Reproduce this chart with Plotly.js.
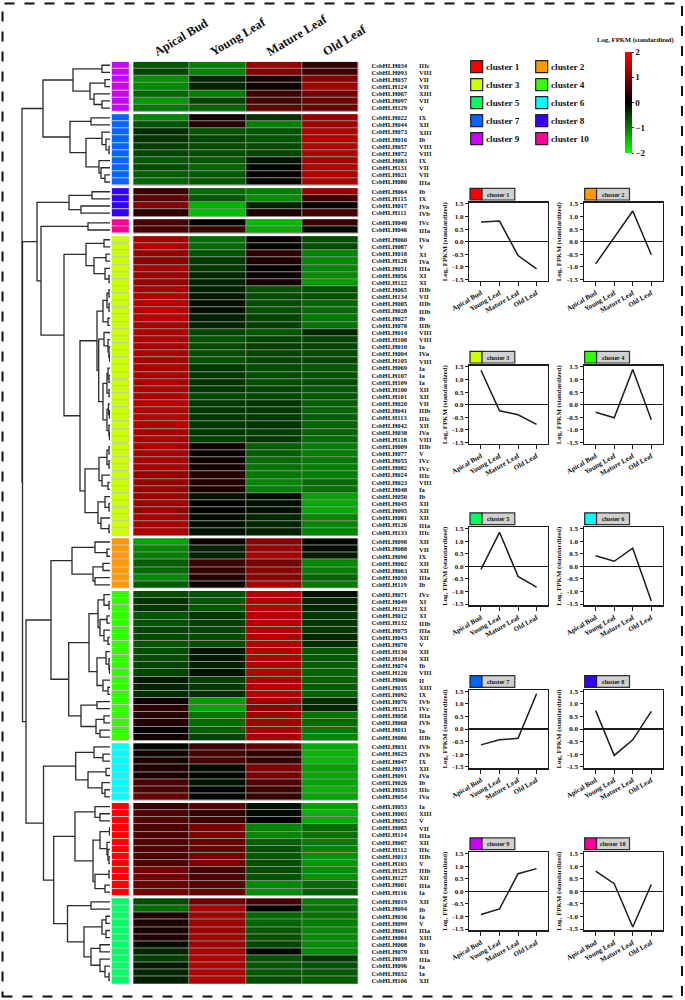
<!DOCTYPE html>
<html><head><meta charset="utf-8">
<script src="https://cdn.plot.ly/plotly-3.0.1.min.js"></script>
<style>html,body{margin:0;padding:0;background:#fff}</style></head>
<body><div id="chart" style="width:685px;height:1000px"></div>
<script>
const tissues = ['Apical Bud','Young Leaf','Mature Leaf','Old Leaf'];
const tissueIndex = [0,1,2,3];
const genePrefix = 'CsbHLH';
const clusterOrder = [9,7,8,10,3,2,4,6,1,5];
const clusterColors = {1:'#ff0000',2:'#ff9900',3:'#ccff00',4:'#33ff00',5:'#00ff66',6:'#00ffff',7:'#0066ff',8:'#3300ff',9:'#cc00ff',10:'#ff0099'};

const genes9 = ['034','093','037','124','067','097','129'];
const classes9 = ['IIIc','VIII','VII','VII','XIII','VII','V'];
const values9 = [[-.7,-1,1.2,.4],[-.55,-1.05,1,.5],[-1.15,-.3,.2,1.05],[-1.1,-.3,.1,1.25],[-.8,-1,.5,.95],[-1.2,-.55,.55,.85],[-.95,-.8,.75,.85]];

const genes7 = ['022','044','073','016','057','072','083','131','021','080'];
const classes7 = ['IX','XII','XIII','Ib','VIII','VIII','IX','VII','VII','IIIa'];
const values7 = [[-1.05,.15,-.4,1.2],[-.65,.3,-1,1.25],[-.35,-.65,-.65,1.35],[-.4,-.55,-.65,1.35],[-.5,-.6,-.6,1.4],[-.55,-.6,-.55,1.4],[-.7,-.7,-.15,1.35],[-.6,-.8,-.05,1.4],[-.75,-.7,.05,1.3],[-.8,-.7,0,1.35]];

const genes8 = ['064','115','017','111'];
const classes8 = ['Ib','IX','IVa','IVb'];
const values8 = [[.45,-.85,-1,1.2],[.75,-.7,-1.1,.5],[1.05,-1.4,-.25,.05],[.35,-1.5,.25,.55]];

const genes10 = ['040','046'];
const classes10 = ['IVc','IIIa'];
const values10 = [[.6,0,-1.45,.45],[.55,.45,-1.35,-.05]];

const genes3 = ['060','087','018','128','051','056','122','065','134','005','028','027','078','014','108','010','004','105','069','107','109','100','101','020','041','113','042','038','118','009','077','055','082','024','023','048','050','045','095','081','126','133'];
const classes3 = ['IVa','V','XI','IVa','IIIa','XI','XI','IIIb','VII','IIIb','IIIb','Ib','IIIb','VIII','VIII','Ia','IVa','VIII','Ia','Ia','Ia','XII','XII','VII','IIIb','IIIc','XII','IVa','VIII','IIIb','V','IVc','IVc','IIIc','VIII','Ia','Ib','XII','XII','XII','IIIa','IIIc'];
const values3 = [[1.3,-.85,.05,-.6],[1.35,-.85,-.05,-.6],[1.15,-.65,.35,-1.05],[1.1,-.45,.25,-1.1],[1.3,-.45,0,-1.05],[1.2,-.3,.1,-1.1],[1.2,-.3,.15,-1.25],[1.35,-.25,-.65,-.65],[1.4,-.2,-.6,-.65],[1.4,-.1,-.6,-.8],[1.4,-.1,-.6,-.85],[1.4,-.25,-.55,-.95],[1.3,-.3,-.5,-.9],[1.35,-.55,-.7,-.3],[1.35,-.65,-.55,-.55],[1.35,-.6,-.5,-.55],[1.35,-.6,-.55,-.6],[1.35,-.65,-.55,-.55],[1.35,-.45,-.6,-.7],[1.35,-.45,-.6,-.65],[1.3,-.4,-.6,-.6],[1.35,-.45,-.55,-.7],[1.35,-.55,-.55,-.7],[1.4,-.45,-.4,-.75],[1.4,-.45,-.45,-.8],[1.4,-.45,-.45,-.75],[1.4,-.45,-.4,-.8],[1.35,-.45,-.5,-.8],[1.35,-.5,-.45,-.85],[1.3,.15,-.75,-1],[1.3,.05,-.75,-1],[1.3,.1,-.85,-.95],[1.3,.15,-.9,-1],[1.15,.3,-.95,-1],[1.2,.3,-1.05,-.85],[1.2,.2,-1,-.9],[1.25,-.15,-.1,-1.25],[1.25,0,-.1,-1.35],[1.15,0,-.1,-1.35],[1.3,-.1,-.3,-1.05],[1.3,-.1,-.3,-1.05],[1.35,-.15,-.25,-1.05]];

const genes2 = ['098','088','090','002','063','030','119'];
const classes2 = ['XII','VII','IX','XII','XII','IIIa','Ib'];
const values2 = [[-1.3,.1,1.05,-.05],[-1.05,-.25,1.2,-.1],[-1,-.25,1.35,-.2],[-.75,.5,.95,-1.1],[-.85,.4,1.1,-1],[-1.1,.25,1.1,-.8],[-.75,.1,1.3,-.95]];

const genes4 = ['071','049','123','012','132','075','043','070','130','104','074','120','006','035','092','076','121','058','068','011','086'];
const classes4 = ['IVc','XI','XI','XI','IIIb','IIIa','XII','V','XII','XII','Ib','VIII','II','XIII','IX','IVb','IVc','IIIa','IVb','Ia','IIIb'];
const values4 = [[-.6,-.65,1.4,-.15],[-.4,-.7,1.4,-.3],[-.45,-.7,1.4,-.3],[-.7,-.45,1.4,-.45],[-.65,-.5,1.4,-.45],[-.55,-.55,1.4,-.45],[-.6,-.6,1.4,-.3],[-.65,-.6,1.4,-.35],[-.6,-.15,1.4,-.7],[-.6,-.2,1.4,-.7],[-.55,-.25,1.4,-.75],[-.55,-.15,1.4,-.8],[-.2,-.5,1.35,-.75],[-.3,-.45,1.4,-.75],[-.35,-.35,1.4,-.8],[.1,-1.25,1.25,-.35],[.35,-1.3,1.1,-.3],[.3,-.9,1.25,-.9],[.3,-.85,1.25,-.85],[0,-.75,1.3,-.95],[.15,-.55,1.35,-1.05]];

const genes6 = ['031','025','047','015','091','026','033','054'];
const classes6 = ['IVb','IVb','IX','XII','IVa','Ib','IIIc','IVa'];
const values6 = [[-.05,.45,.75,-1.35],[.15,.55,.35,-1.45],[.2,.6,.45,-1.45],[.25,-.1,1,-1.25],[.2,-.05,.95,-1.3],[.6,-.15,.65,-1.3],[.6,0,.5,-1.4],[.8,-.05,.4,-1.3]];

const genes1 = ['053','003','052','085','114','007','112','013','103','125','127','001','116'];
const classes1 = ['Ia','XIII','V','VII','IIIa','XII','IIIc','IIIb','V','IIIb','XII','IIIa','Ia'];
const values1 = [[.45,.7,-.15,-1.25],[.65,.4,-.05,-1.4],[.65,.5,0,-1.35],[.55,.95,-1.05,-.85],[.6,.95,-1.05,-.9],[.65,.85,-.75,-1],[.65,.85,-.65,-1.05],[.6,.9,-.7,-1.15],[.65,.9,-.6,-1.2],[.95,.55,-.6,-1.1],[.95,.6,-.65,-1.15],[.85,.7,-1.1,-.85],[.9,.75,-1.1,-.75]];

const genes5 = ['019','094','036','099','061','084','008','079','039','096','032','106'];
const classes5 = ['XII','Ib','Ia','V','IIIa','XIII','Ib','XII','IIIa','Ia','Ia','XII'];
const values5 = [[-.6,.9,.55,-1],[-.85,1.3,0,-.9],[.2,1.25,-.85,-.9],[.25,1.25,-.8,-1],[.15,1.2,-.7,-1.05],[.25,1.25,-.65,-1.1],[-.1,1.25,-.55,-1.1],[-.3,1.3,-.05,-1.1],[-.5,1.4,-.65,-.45],[-.2,1.4,-.7,-.65],[-.3,1.4,-.7,-.7],[-.25,1.4,-.6,-.75]];

const profile1 = [.78,.82,-.55,-1.08];
const profile2 = [-.88,.18,1.22,-.52];
const profile3 = [1.37,-.24,-.4,-.78];
const profile4 = [-.3,-.52,1.4,-.6];
const profile5 = [-.12,1.35,-.4,-.83];
const profile6 = [.42,.2,.72,-1.38];
const profile7 = [-.63,-.43,-.37,1.4];
const profile8 = [.73,-1.05,-.43,.7];
const profile9 = [-.92,-.7,.7,.9];
const profile10 = [.8,.3,-1.42,.27];

// Dendrogram: each node is [merge height, child, child]; 0 is the next leaf, top to bottom.
const treeC9 = [37,[8,0,0],[20,[5,0,0],[16,0,[8,0,0]]]];
const treeC7 = [40,[19,0,0],[24,[8,0,[4,0,[1,0,0]]],[11,0,[9,0,[5,0,0]]]]];
const treeC8 = [41,[18,0,0],[29,0,0]];
const treeC10 = [22,0,0];
const treeC3 = [46,[24,[6,0,0],[16,[4,0,0],[5,0,[1,0,0]]]],
  [30,[13,[7,[3,[1,0,0],[1,0,0]],[2,0,0]],[11.3,[6,0,[2,0,[1,0,[.5,0,0]]]],[7,[3,[2,0,[1,0,0]],[1,0,0]],[3,[1.5,0,[.5,0,0]],[1,0,[.5,0,0]]]]]],
      [25,[11,[3,[1,0,0],[1,0,0]],[8,0,[2,0,0]]],[12,[5,0,[1,0,0]],[9,0,[1,0,0]]]]]];
const treeC2 = [38,[15,0,[3,0,0]],[17,[7,0,0],[15,0,0]]];
const treeC4 = [41.3,[21,[12,[6,0,[1,0,0]],[10,[3,0,0],[6,0,[2,0,0]]]],[13,[4,0,[1,0,[.5,0,0]]],[7,0,[2,0,0]]]],
  [29,[13,0,0],[14,[6,0,0],[10,0,0]]]];
const treeC6 = [34.3,[16,0,[7,0,0]],[22,[4,0,0],[8,0,[5,0,0]]]];
const treeC1 = [35,[15,0,[10,0,0]],[17,[10,[.5,0,0],[3,0,[2,0,[1,0,0]]]],[15,[1,0,0],[5,0,0]]]];
const treeC5 = [42.5,[19,0,0],[26,[8,[4,0,0],[4,0,0]],[19,[10,0,0],[10,0,[5,0,[1,0,0]]]]]];
const geneTree = [88,[67,treeC9,treeC7],
  [87.5,[73,treeC8,[69,treeC10,treeC3]],[84,[59,treeC2,treeC4],[66.5,treeC6,[56.3,treeC1,treeC5]]]]];

const clusterGenes = {1:genes1,2:genes2,3:genes3,4:genes4,5:genes5,6:genes6,7:genes7,8:genes8,9:genes9,10:genes10};
const clusterClasses = {1:classes1,2:classes2,3:classes3,4:classes4,5:classes5,6:classes6,7:classes7,8:classes8,9:classes9,10:classes10};
const clusterValues = {1:values1,2:values2,3:values3,4:values4,5:values5,6:values6,7:values7,8:values8,9:values9,10:values10};
const clusterProfiles = {1:profile1,2:profile2,3:profile3,4:profile4,5:profile5,6:profile6,7:profile7,8:profile8,9:profile9,10:profile10};

// ---- layout helpers
const W = 685, H = 1000;
const px = x => x / W, py = y => 1 - y / H;
const SERIF = '"Liberation Serif","Times New Roman",serif';
const bold = (size, color) => ({family: SERIF, size, color: color || '#111', weight: 700});
const INK = '#1c1c1c';
const gapRows = 0.365;
const colorscale = [[0,'#00ff00'],[.5,'#000000'],[1,'#ff0000']];
const LOG_TITLE = 'Log\u2082 FPKM (standardized)';

const traces = [], shapes = [], annotations = [];
const tickvals = [], ticktext = [];
const leafY = [];
let row = 0;

clusterOrder.forEach((c, ci) => {
  const ys = clusterGenes[c].map(() => row++ + ci * gapRows);
  ys.forEach((y, i) => {
    leafY.push(y);
    tickvals.push(y);
    ticktext.push(genePrefix + clusterGenes[c][i]);
    annotations.push({xref:'paper', yref:'y', x:px(418), y, text:clusterClasses[c][i], showarrow:false,
      xanchor:'left', yanchor:'middle', font:bold(6.6), borderpad:0});
  });
  const y0 = ys[0] - .5, y1 = ys[ys.length-1] + .5;
  shapes.push({type:'rect', layer:'below', xref:'x domain', yref:'y', x0:0, x1:1, y0, y1, fillcolor:'#8d8d8d', line:{width:0}});
  shapes.push({type:'rect', layer:'below', xref:'x2 domain', yref:'y', x0:0, x1:1, y0, y1, fillcolor:'#c4c4c4', line:{width:0}});
  traces.push({type:'heatmap', x:tissueIndex, y:ys, z:clusterValues[c], zmin:-2, zmax:2, colorscale, xgap:1, ygap:1,
    xaxis:'x', yaxis:'y', hoverinfo:'skip', name:'cluster '+c, showscale: ci === 0,
    colorbar:{x:px(625), xanchor:'left', xpad:0, ypad:0, y:py(52), yanchor:'top', lenmode:'pixels', len:101, thicknessmode:'pixels', thickness:7,
      outlinewidth:0, tickmode:'array', tickvals:[-2,-1,0,1,2], ticktext:['−2','−1','0','1','2'], ticks:'outside', ticklen:2, tickcolor:'#333', tickfont:bold(9)}});
  traces.push({type:'heatmap', x:['cluster'], y:ys, z:ys.map(() => [1]), zmin:0, zmax:1,
    colorscale:[[0,clusterColors[c]],[1,clusterColors[c]]], showscale:false, ygap:1, xgap:1,
    xaxis:'x2', yaxis:'y', hoverinfo:'skip', name:'cluster '+c});
});

// Dendrogram traced from the nested merges
const treeX = [], treeY = [];
let leafIndex = 0;
function walk(node) {
  if (node === 0) return {h:0, y:leafY[leafIndex++]};
  const a = walk(node[1]), b = walk(node[2]), h = node[0];
  treeX.push(a.h, h, h, b.h, null);
  treeY.push(a.y, a.y, b.y, b.y, null);
  return {h, y:(a.y + b.y) / 2};
}
walk(geneTree);
traces.push({type:'scatter', mode:'lines', x:treeX, y:treeY, xaxis:'x3', yaxis:'y', hoverinfo:'skip',
  line:{color:'#2b2b2b', width:1.3}, showlegend:false, connectgaps:false});

const layout = {
  width:W, height:H, margin:{l:0,r:0,t:0,b:0,pad:0}, paper_bgcolor:'#fff', plot_bgcolor:'rgba(0,0,0,0)',
  showlegend:false, hovermode:false, font:{family:SERIF},
  xaxis:{domain:[px(133.3),px(358.3)], anchor:'y', side:'top', range:[-.5,3.5], tickmode:'array', tickvals:tissueIndex.map(i => i - .13), ticktext:tissues,
    tickangle:-31, tickfont:bold(12.5), ticks:'', showgrid:false, zeroline:false, showline:false, fixedrange:true, ticklabelstandoff:1},
  xaxis2:{domain:[px(111.7),px(129.2)], anchor:'y', visible:false, type:'category', fixedrange:true},
  xaxis3:{domain:[px(10),px(110)], anchor:'y', visible:false, range:[100,0], fixedrange:true},
  yaxis:{domain:[py(984),py(61.7)], anchor:'x', side:'right', range:[row - .5 + 9*gapRows, -.5], tickmode:'array', tickvals, ticktext,
    tickfont:bold(6.6), ticks:'outside', ticklen:11, tickcolor:'rgba(0,0,0,0)', showgrid:false, zeroline:false, showline:false, fixedrange:true},
  shapes, annotations
};

// Outer dashed frame
shapes.push({type:'rect', xref:'paper', yref:'paper', x0:px(2.5), x1:px(682), y0:py(996.5), y1:py(3.5), line:{color:'#111', width:2, dash:'10px,10px'}});

// Cluster key
[1,2,3,4,5,6,7,8,9,10].forEach((c, i) => {
  const left = i % 2 === 0 ? 470.7 : 535.7, top = 60.7 + 18 * Math.floor(i / 2);
  shapes.push({type:'rect', xref:'paper', yref:'paper', x0:px(left), x1:px(left+12), y0:py(top+12), y1:py(top), fillcolor:clusterColors[c], line:{color:'#222', width:1.2}});
  annotations.push({xref:'paper', yref:'paper', x:px(left+14), y:py(top+6), text:'cluster '+c, showarrow:false, xanchor:'left', yanchor:'middle', font:bold(9.2), borderpad:0});
});
annotations.push({xref:'paper', yref:'paper', x:px(635), y:py(40.5), text:LOG_TITLE, showarrow:false, xanchor:'center', yanchor:'middle', font:bold(6.6), borderpad:0});

// Profile panels
const panelTops = [202.7,365.7,527.3,690,852.3];
const panelLefts = [469.3,584];
const panelW = 78.6, panelH = 78;
for (let c = 1; c <= 10; c++) {
  const left = panelLefts[(c-1) % 2], top = panelTops[Math.floor((c-1)/2)];
  const n = c + 3, ny = c + 1;
  traces.push({type:'scatter', mode:'lines', x:tissues, y:clusterProfiles[c], xaxis:'x'+n, yaxis:'y'+ny, hoverinfo:'skip',
    line:{color:INK, width:1.5}, showlegend:false, name:'cluster '+c});
  layout['xaxis'+n] = {domain:[px(left),px(left+panelW)], anchor:'y'+ny, type:'category', categoryorder:'array', categoryarray:tissues, range:[-.63,3.61],
    tickangle:-30, tickfont:bold(7), ticks:'outside', ticklen:4, tickwidth:1, tickcolor:INK, showline:true, mirror:true, linecolor:INK, linewidth:1.5, showgrid:false, zeroline:false, fixedrange:true};
  layout['yaxis'+ny] = {domain:[py(top+panelH),py(top)], anchor:'x'+n, range:[-1.55,1.55], tickmode:'array', tickvals:[-1.5,-1,-.5,0,.5,1,1.5], ticktext:['-1.5','-1.0','-0.5','0.0','0.5','1.0','1.5'],
    tickfont:bold(7), ticks:'outside', ticklen:3, tickwidth:1, tickcolor:INK, showline:true, mirror:true, linecolor:INK, linewidth:1.5, showgrid:false,
    zeroline:true, zerolinecolor:INK, zerolinewidth:1.3, fixedrange:true,
    title:{text:LOG_TITLE, font:bold(6.8), standoff:4}};
  shapes.push({type:'rect', xref:'paper', yref:'paper', x0:px(left+12.5), x1:px(left+45.5), y0:py(top-2.7), y1:py(top-14.4), fillcolor:'#d0d0d0', line:{color:'#333', width:1.2}});
  shapes.push({type:'rect', xref:'paper', yref:'paper', x0:px(left+.7), x1:px(left+12.5), y0:py(top-2.7), y1:py(top-14.4), fillcolor:clusterColors[c], line:{color:'#222', width:1.2}});
  annotations.push({xref:'paper', yref:'paper', x:px(left+29), y:py(top-8.5), text:'cluster '+c, showarrow:false, xanchor:'center', yanchor:'middle', font:bold(6.2), borderpad:0});
}

Plotly.newPlot('chart', traces, layout, {displayModeBar:false, staticPlot:true});
</script></body></html>
